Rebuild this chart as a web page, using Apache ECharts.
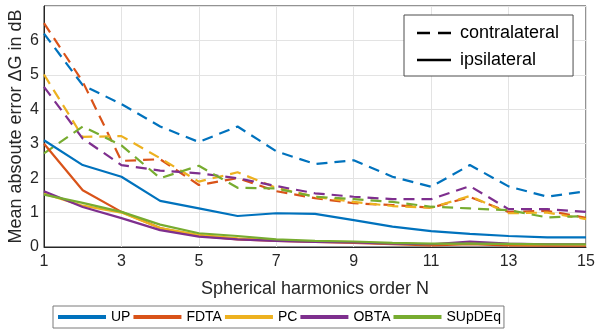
<!DOCTYPE html>
<html>
<head>
<meta charset="utf-8">
<script src="https://cdn.jsdelivr.net/npm/echarts@6/dist/echarts.min.js"></script>
<style>
  html, body { margin: 0; padding: 0; background: #fff; }
  #chart { width: 595px; height: 331px; }
</style>
</head>
<body>
<div id="chart"></div>
<script>
var orders = ['1', '2', '3', '4', '5', '6', '7', '8', '9', '10', '11', '12', '13', '14', '15']

// contralateral (dashed)
var upContra = [6.2, 4.7, 4.15, 3.5, 3.05, 3.5, 2.78, 2.41, 2.52, 2.04, 1.75, 2.38, 1.76, 1.46, 1.62]
var fdtaContra = [6.5, 4.8, 2.5, 2.55, 1.8, 2.0, 1.62, 1.42, 1.27, 1.22, 1.14, 1.45, 1.02, 1.05, 0.85]
var pcContra = [5.01, 3.2, 3.22, 2.58, 1.9, 2.17, 1.72, 1.46, 1.31, 1.19, 1.14, 1.48, 0.98, 1.0, 0.81]
var obtaContra = [4.65, 3.15, 2.38, 2.22, 2.14, 2.0, 1.77, 1.56, 1.46, 1.39, 1.39, 1.77, 1.1, 1.1, 1.02]
var supContra = [2.72, 3.5, 2.95, 2.0, 2.36, 1.72, 1.7, 1.46, 1.39, 1.31, 1.17, 1.12, 1.07, 0.86, 0.9]

// ipsilateral (solid)
var upIpsi = [3.1, 2.38, 2.04, 1.34, 1.12, 0.9, 0.98, 0.96, 0.78, 0.59, 0.46, 0.38, 0.32, 0.28, 0.28]
var fdtaIpsi = [3.0, 1.65, 1.02, 0.55, 0.32, 0.22, 0.18, 0.15, 0.12, 0.08, 0.05, 0.08, 0.05, 0.04, 0.04]
var pcIpsi = [1.55, 1.2, 1.0, 0.55, 0.35, 0.25, 0.2, 0.16, 0.14, 0.1, 0.08, 0.12, 0.08, 0.07, 0.06]
var obtaIpsi = [1.62, 1.16, 0.84, 0.49, 0.3, 0.22, 0.18, 0.15, 0.13, 0.1, 0.08, 0.16, 0.1, 0.08, 0.08]
var supIpsi = [1.52, 1.28, 1.02, 0.65, 0.4, 0.32, 0.22, 0.18, 0.16, 0.12, 0.1, 0.1, 0.09, 0.08, 0.08]

var methods = ['UP', 'FDTA', 'PC', 'OBTA', 'SUpDEq']
var colors = ['#0072BD', '#D95319', '#EDB120', '#7E2F8E', '#77AC30']
var ipsiData = [upIpsi, fdtaIpsi, pcIpsi, obtaIpsi, supIpsi]
var contraData = [upContra, fdtaContra, pcContra, obtaContra, supContra]

var font = 'Liberation Sans, Arial, Helvetica, sans-serif'
var dash = [11, 7]

var series = []
// solid first so the bottom legend picks up the solid icon
for (var i = 0; i < methods.length; i++) {
  series.push({
    name: methods[i],
    type: 'line',
    data: ipsiData[i],
    symbol: 'none',
    color: colors[i],
    lineStyle: { width: 2.2, color: colors[i] },
    z: 3
  })
}
for (var j = 0; j < methods.length; j++) {
  series.push({
    name: methods[j],
    type: 'line',
    data: contraData[j],
    symbol: 'none',
    color: colors[j],
    lineStyle: { width: 2.2, color: colors[j], type: dash },
    z: 2
  })
}
series.push({ name: 'contralateral', type: 'line', data: [], symbol: 'none', color: '#000' })
series.push({ name: 'ipsilateral', type: 'line', data: [], symbol: 'none', color: '#000' })

var myChart = echarts.init(document.getElementById('chart'), null, { renderer: 'canvas' })
var option = {
  backgroundColor: '#fff',
  animation: false,
  textStyle: { fontFamily: font },
  grid: {
    left: 44,
    right: 9,
    top: 6,
    bottom: 84,
    containLabel: false,
    outerBoundsMode: 'none',
    show: true,
    borderColor: '#262626',
    borderWidth: 1
  },
  xAxis: {
    type: 'category',
    data: orders,
    boundaryGap: false,
    name: 'Spherical harmonics order N',
    nameLocation: 'middle',
    nameGap: 33,
    nameTextStyle: { fontSize: 18, color: '#262626', fontFamily: font },
    axisLine: { lineStyle: { color: '#262626', width: 1 } },
    axisTick: { show: false },
    axisLabel: { interval: 1, fontSize: 16, color: '#262626', margin: 7, fontFamily: font },
    splitLine: { show: true, interval: 1, lineStyle: { color: '#e3e3e3', width: 1 } }
  },
  yAxis: {
    type: 'value',
    min: 0,
    max: 7,
    interval: 1,
    name: 'Mean absoute error \u0394G in dB',
    nameLocation: 'middle',
    nameGap: 19,
    nameMoveOverlap: false,
    nameTextStyle: { fontSize: 18, color: '#262626', fontFamily: font },
    axisLine: { show: true, lineStyle: { color: '#262626', width: 1 } },
    axisTick: { show: false },
    axisLabel: {
      fontSize: 16,
      color: '#262626',
      margin: 5,
      fontFamily: font,
      formatter: function (v) { return v >= 7 ? '' : String(v) }
    },
    splitLine: { show: true, lineStyle: { color: '#e3e3e3', width: 1 } }
  },
  legend: [
    {
      data: methods,
      bottom: 3,
      left: 53,
      itemWidth: 48,
      itemHeight: 4,
      itemGap: 3,
      padding: [4, 3, 4, 5],
      borderColor: '#7a7a7a',
      borderWidth: 1,
      backgroundColor: '#fff',
      icon: 'rect',
      textStyle: { fontSize: 14, color: '#000', fontFamily: font }
    },
    {
      data: [
        { name: 'contralateral', icon: 'path://M0,0H13V2.5H0Z M21,0H34V2.5H21Z' },
        { name: 'ipsilateral', icon: 'path://M0,0H34V2.5H0Z' }
      ],
      orient: 'vertical',
      top: 15,
      left: 404,
      itemWidth: 34,
      itemHeight: 2.5,
      symbolKeepAspect: false,
      itemGap: 9,
      padding: [9, 14, 7, 13],
      borderColor: '#4d4d4d',
      borderWidth: 1,
      backgroundColor: '#fff',
      textStyle: { fontSize: 18, color: '#000', fontFamily: font, padding: [0, 0, 0, 4] }
    }
  ],
  series: series
}
myChart.setOption(option, true)
window.addEventListener('resize', () => {
  myChart.resize()
})
</script>
</body>
</html>
